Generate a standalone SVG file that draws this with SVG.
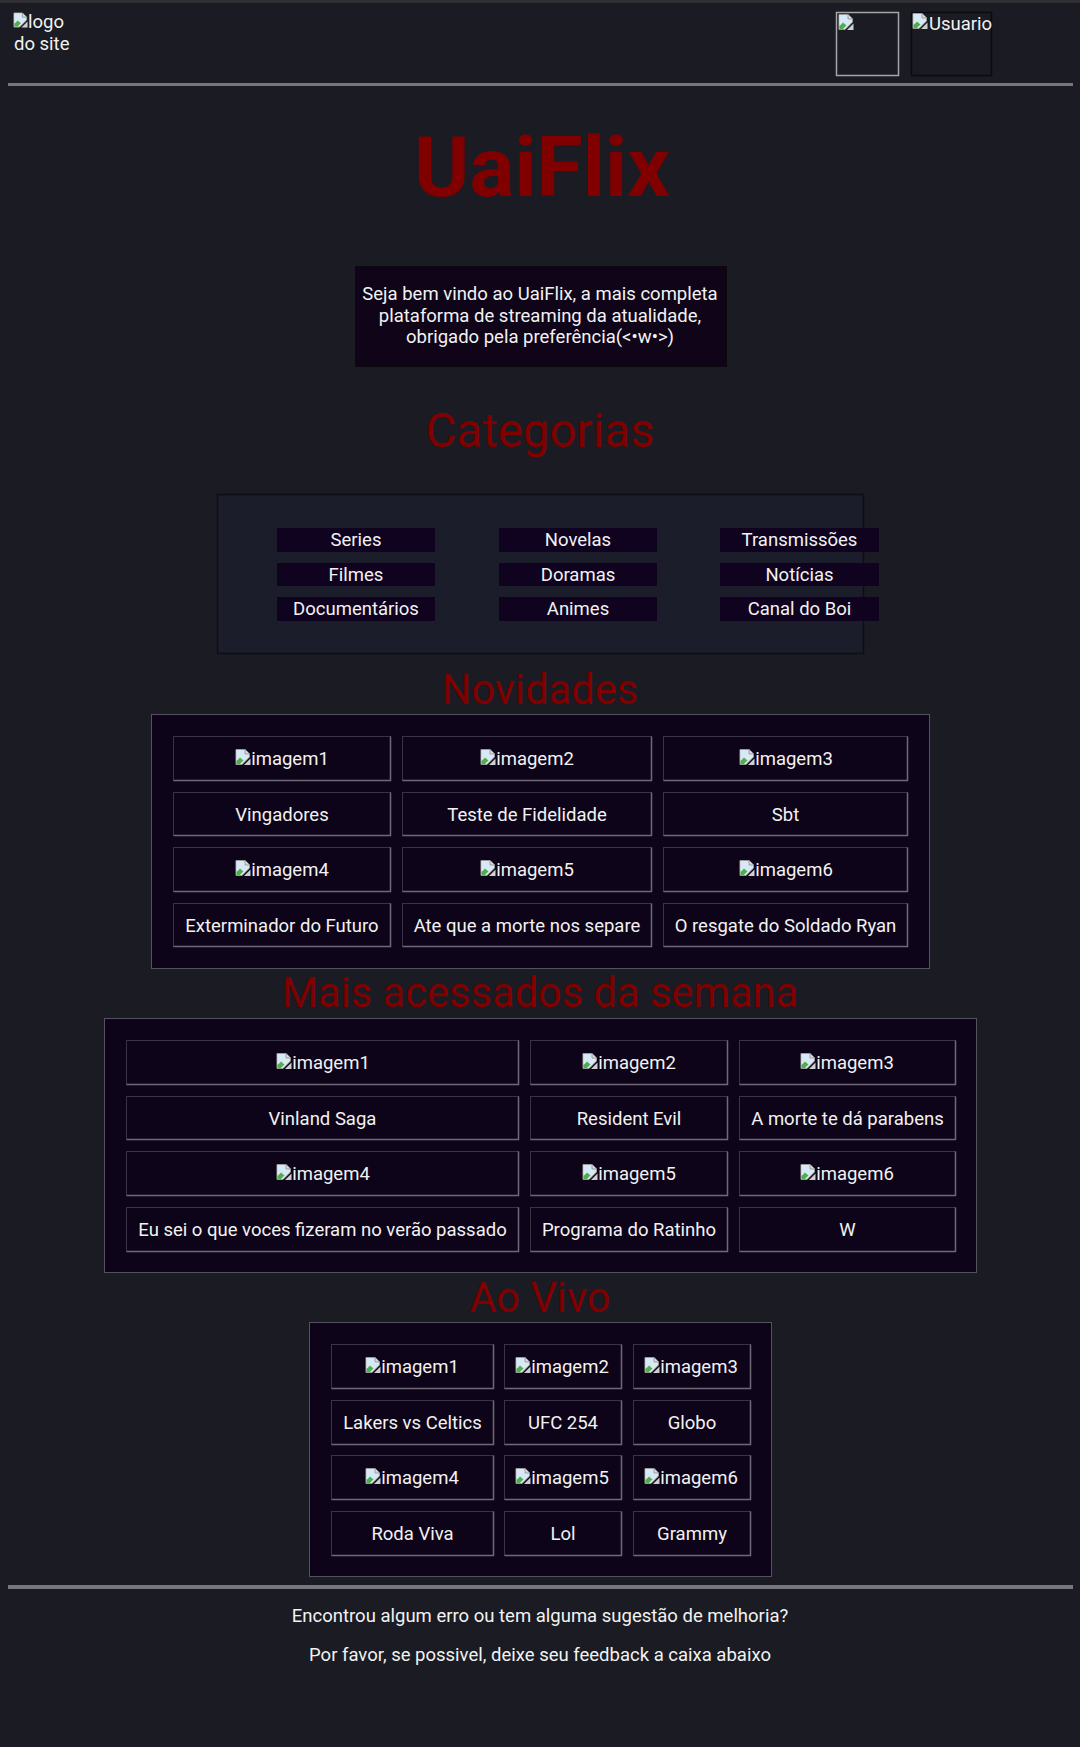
<svg xmlns="http://www.w3.org/2000/svg" xmlns:xlink="http://www.w3.org/1999/xlink" width="1080" height="1747" viewBox="0 0 1080 1747">
<style>
text{font-family:Roboto,"Liberation Sans",sans-serif;fill:#f2f2f2;font-size:18.5px}
.mid{text-anchor:middle}
.h{fill:#800000;text-anchor:middle}
.box{fill:#0e0419;stroke:#55525e;stroke-width:1}
.cell{fill:#0e0419;stroke:#3a3346;stroke-width:1}
.hl{stroke:#6e6878;stroke-width:1.5;fill:none}
.btn{fill:#10031f}
.sep{fill:#76767c}
</style>
<defs>
<symbol id="broken" viewBox="0 0 16 16">
<path d="M1 0.5H10L14.5 5V8L7 15.5H1Z" fill="#f0f0f0" stroke="#9a9a9a" stroke-width="1"/>
<path d="M1.5 1H9.5V5.5H14V7.5L9 12.5L5 8.5L1.5 11Z" fill="#d6eaf6"/>
<path d="M1.5 12L5 8.5L8.5 11.5L5 15H1.5Z" fill="#4caf50"/>
<path d="M10 0.5V5H14.5" fill="#dcdcdc" stroke="#9a9a9a" stroke-width="1"/>
<path d="M9 16L15.5 9.5V16Z" fill="#cfcfcf"/>
</symbol>
</defs>
<rect width="1080" height="1747" fill="#1a1b23"/>
<rect width="1080" height="3" fill="#2f2f33"/>

<g id="header">
<g id="logo">
<use xlink:href="#broken" x="13" y="12" width="15" height="16"/>
<text x="28" y="28">logo</text>
<text x="14" y="50">do site</text>
</g>
<g id="icon-box">
<rect x="836.5" y="12.5" width="62" height="63" fill="none" stroke="#a6a6aa" stroke-width="1.5"/>
<use xlink:href="#broken" x="838" y="14" width="16" height="16"/>
</g>
<g id="user-box">
<rect x="911.5" y="12.5" width="80" height="63" fill="#1a1b23" stroke="#0a0a10" stroke-width="1.5"/>
<use xlink:href="#broken" x="912" y="13" width="16" height="16"/>
<svg x="912" y="12" width="80" height="64"><text x="17" y="18">Usuario</text></svg>
</g>
<rect class="sep" x="8" y="83" width="1065" height="3"/>
</g>

<g id="title">
<text class="h" x="542" y="196" style="font-size:84px;font-weight:bold">UaiFlix</text>
</g>

<g id="welcome">
<rect x="355.5" y="266.5" width="371" height="100" fill="#0f0418" stroke="#0a0a0e"/>
<text class="mid" x="540" y="300">Seja bem vindo ao UaiFlix, a mais completa</text>
<text class="mid" x="540" y="321.5">plataforma de streaming da atualidade,</text>
<text class="mid" x="540" y="343">obrigado pela preferência(&lt;•w•&gt;)</text>
</g>

<g id="categorias">
<text class="h" x="540" y="447" style="font-size:47.5px">Categorias</text>
<rect x="217.5" y="494.5" width="646" height="159" fill="#1c1d2b" stroke="#0d0e15" stroke-width="1.5"/>
<g id="cat-series"><rect class="btn" x="277" y="528" width="158" height="24"/><text class="mid" x="356" y="546">Series</text></g>
<g id="cat-novelas"><rect class="btn" x="499" y="528" width="158" height="24"/><text class="mid" x="578" y="546">Novelas</text></g>
<g id="cat-transmissoes"><rect class="btn" x="720" y="528" width="159" height="24"/><text class="mid" x="799.5" y="546">Transmissões</text></g>
<g id="cat-filmes"><rect class="btn" x="277" y="563" width="158" height="23"/><text class="mid" x="356" y="581">Filmes</text></g>
<g id="cat-doramas"><rect class="btn" x="499" y="563" width="158" height="23"/><text class="mid" x="578" y="581">Doramas</text></g>
<g id="cat-noticias"><rect class="btn" x="720" y="563" width="159" height="23"/><text class="mid" x="799.5" y="581">Notícias</text></g>
<g id="cat-documentarios"><rect class="btn" x="277" y="597" width="158" height="24"/><text class="mid" x="356" y="615">Documentários</text></g>
<g id="cat-animes"><rect class="btn" x="499" y="597" width="158" height="24"/><text class="mid" x="578" y="615">Animes</text></g>
<g id="cat-canal"><rect class="btn" x="720" y="597" width="159" height="24"/><text class="mid" x="799.5" y="615">Canal do Boi</text></g>
</g>

<g id="novidades">
<text class="h" x="540" y="704" style="font-size:41.6px">Novidades</text>
<rect class="box" x="151.5" y="714.5" width="778" height="254"/>
<g id="nov-cells">
<g id="nov-img1"><rect class="cell" x="173.5" y="736.5" width="217" height="44"/><path class="hl" d="M173.5 780.5H390.5V736.5"/><use xlink:href="#broken" x="235" y="749" width="16" height="16"/><text class="mid" x="290" y="765">imagem1</text></g>
<g id="nov-img2"><rect class="cell" x="402.5" y="736.5" width="249" height="44"/><path class="hl" d="M402.5 780.5H651.5V736.5"/><use xlink:href="#broken" x="480" y="749" width="16" height="16"/><text class="mid" x="535" y="765">imagem2</text></g>
<g id="nov-img3"><rect class="cell" x="663.5" y="736.5" width="244" height="44"/><path class="hl" d="M663.5 780.5H907.5V736.5"/><use xlink:href="#broken" x="739" y="749" width="16" height="16"/><text class="mid" x="794" y="765">imagem3</text></g>
<g id="nov-t1"><rect class="cell" x="173.5" y="792.5" width="217" height="43"/><path class="hl" d="M173.5 835.5H390.5V792.5"/><text class="mid" x="282" y="820.5">Vingadores</text></g>
<g id="nov-t2"><rect class="cell" x="402.5" y="792.5" width="249" height="43"/><path class="hl" d="M402.5 835.5H651.5V792.5"/><text class="mid" x="527" y="820.5">Teste de Fidelidade</text></g>
<g id="nov-t3"><rect class="cell" x="663.5" y="792.5" width="244" height="43"/><path class="hl" d="M663.5 835.5H907.5V792.5"/><text class="mid" x="785.5" y="820.5">Sbt</text></g>
<g id="nov-img4"><rect class="cell" x="173.5" y="847.5" width="217" height="44"/><path class="hl" d="M173.5 891.5H390.5V847.5"/><use xlink:href="#broken" x="235" y="860" width="16" height="16"/><text class="mid" x="290" y="876">imagem4</text></g>
<g id="nov-img5"><rect class="cell" x="402.5" y="847.5" width="249" height="44"/><path class="hl" d="M402.5 891.5H651.5V847.5"/><use xlink:href="#broken" x="480" y="860" width="16" height="16"/><text class="mid" x="535" y="876">imagem5</text></g>
<g id="nov-img6"><rect class="cell" x="663.5" y="847.5" width="244" height="44"/><path class="hl" d="M663.5 891.5H907.5V847.5"/><use xlink:href="#broken" x="739" y="860" width="16" height="16"/><text class="mid" x="794" y="876">imagem6</text></g>
<g id="nov-t4"><rect class="cell" x="173.5" y="903.5" width="217" height="43"/><path class="hl" d="M173.5 946.5H390.5V903.5"/><text class="mid" x="282" y="931.5">Exterminador do Futuro</text></g>
<g id="nov-t5"><rect class="cell" x="402.5" y="903.5" width="249" height="43"/><path class="hl" d="M402.5 946.5H651.5V903.5"/><text class="mid" x="527" y="931.5">Ate que a morte nos separe</text></g>
<g id="nov-t6"><rect class="cell" x="663.5" y="903.5" width="244" height="43"/><path class="hl" d="M663.5 946.5H907.5V903.5"/><text class="mid" x="785.5" y="931.5">O resgate do Soldado Ryan</text></g>
</g>
</g>

<g id="mais">
<text class="h" x="540" y="1007" style="font-size:41.6px">Mais acessados da semana</text>
<rect class="box" x="104.5" y="1018.5" width="872" height="254"/>
<g id="mais-img1"><rect class="cell" x="126.5" y="1040.5" width="392" height="44"/><path class="hl" d="M126.5 1084.5H518.5V1040.5"/><use xlink:href="#broken" x="276" y="1053" width="16" height="16"/><text class="mid" x="331" y="1069">imagem1</text></g>
<g id="mais-img2"><rect class="cell" x="530.5" y="1040.5" width="197" height="44"/><path class="hl" d="M530.5 1084.5H727.5V1040.5"/><use xlink:href="#broken" x="582" y="1053" width="16" height="16"/><text class="mid" x="637" y="1069">imagem2</text></g>
<g id="mais-img3"><rect class="cell" x="739.5" y="1040.5" width="216" height="44"/><path class="hl" d="M739.5 1084.5H955.5V1040.5"/><use xlink:href="#broken" x="800" y="1053" width="16" height="16"/><text class="mid" x="855" y="1069">imagem3</text></g>
<g id="mais-t1"><rect class="cell" x="126.5" y="1096.5" width="392" height="43"/><path class="hl" d="M126.5 1139.5H518.5V1096.5"/><text class="mid" x="322.5" y="1124.5">Vinland Saga</text></g>
<g id="mais-t2"><rect class="cell" x="530.5" y="1096.5" width="197" height="43"/><path class="hl" d="M530.5 1139.5H727.5V1096.5"/><text class="mid" x="629" y="1124.5">Resident Evil</text></g>
<g id="mais-t3"><rect class="cell" x="739.5" y="1096.5" width="216" height="43"/><path class="hl" d="M739.5 1139.5H955.5V1096.5"/><text class="mid" x="847.5" y="1124.5">A morte te dá parabens</text></g>
<g id="mais-img4"><rect class="cell" x="126.5" y="1151.5" width="392" height="44"/><path class="hl" d="M126.5 1195.5H518.5V1151.5"/><use xlink:href="#broken" x="276" y="1164" width="16" height="16"/><text class="mid" x="331" y="1180">imagem4</text></g>
<g id="mais-img5"><rect class="cell" x="530.5" y="1151.5" width="197" height="44"/><path class="hl" d="M530.5 1195.5H727.5V1151.5"/><use xlink:href="#broken" x="582" y="1164" width="16" height="16"/><text class="mid" x="637" y="1180">imagem5</text></g>
<g id="mais-img6"><rect class="cell" x="739.5" y="1151.5" width="216" height="44"/><path class="hl" d="M739.5 1195.5H955.5V1151.5"/><use xlink:href="#broken" x="800" y="1164" width="16" height="16"/><text class="mid" x="855" y="1180">imagem6</text></g>
<g id="mais-t4"><rect class="cell" x="126.5" y="1207.5" width="392" height="44"/><path class="hl" d="M126.5 1251.5H518.5V1207.5"/><text class="mid" x="322.5" y="1236">Eu sei o que voces fizeram no verão passado</text></g>
<g id="mais-t5"><rect class="cell" x="530.5" y="1207.5" width="197" height="44"/><path class="hl" d="M530.5 1251.5H727.5V1207.5"/><text class="mid" x="629" y="1236">Programa do Ratinho</text></g>
<g id="mais-t6"><rect class="cell" x="739.5" y="1207.5" width="216" height="44"/><path class="hl" d="M739.5 1251.5H955.5V1207.5"/><text class="mid" x="847.5" y="1236">W</text></g>
</g>

<g id="aovivo">
<text class="h" x="540" y="1312" style="font-size:41.6px">Ao Vivo</text>
<rect class="box" x="309.5" y="1322.5" width="462" height="254"/>
<g id="av-img1"><rect class="cell" x="331.5" y="1344.5" width="162" height="44"/><path class="hl" d="M331.5 1388.5H493.5V1344.5"/><use xlink:href="#broken" x="365" y="1357" width="16" height="16"/><text class="mid" x="420" y="1373">imagem1</text></g>
<g id="av-img2"><rect class="cell" x="504.5" y="1344.5" width="117" height="44"/><path class="hl" d="M504.5 1388.5H621.5V1344.5"/><use xlink:href="#broken" x="515" y="1357" width="16" height="16"/><text class="mid" x="570" y="1373">imagem2</text></g>
<g id="av-img3"><rect class="cell" x="633.5" y="1344.5" width="117" height="44"/><path class="hl" d="M633.5 1388.5H750.5V1344.5"/><use xlink:href="#broken" x="644" y="1357" width="16" height="16"/><text class="mid" x="699" y="1373">imagem3</text></g>
<g id="av-t1"><rect class="cell" x="331.5" y="1400.5" width="162" height="44"/><path class="hl" d="M331.5 1444.5H493.5V1400.5"/><text class="mid" x="412.5" y="1429">Lakers vs Celtics</text></g>
<g id="av-t2"><rect class="cell" x="504.5" y="1400.5" width="117" height="44"/><path class="hl" d="M504.5 1444.5H621.5V1400.5"/><text class="mid" x="563" y="1429">UFC 254</text></g>
<g id="av-t3"><rect class="cell" x="633.5" y="1400.5" width="117" height="44"/><path class="hl" d="M633.5 1444.5H750.5V1400.5"/><text class="mid" x="692" y="1429">Globo</text></g>
<g id="av-img4"><rect class="cell" x="331.5" y="1455.5" width="162" height="44"/><path class="hl" d="M331.5 1499.5H493.5V1455.5"/><use xlink:href="#broken" x="365" y="1468" width="16" height="16"/><text class="mid" x="420" y="1484">imagem4</text></g>
<g id="av-img5"><rect class="cell" x="504.5" y="1455.5" width="117" height="44"/><path class="hl" d="M504.5 1499.5H621.5V1455.5"/><use xlink:href="#broken" x="515" y="1468" width="16" height="16"/><text class="mid" x="570" y="1484">imagem5</text></g>
<g id="av-img6"><rect class="cell" x="633.5" y="1455.5" width="117" height="44"/><path class="hl" d="M633.5 1499.5H750.5V1455.5"/><use xlink:href="#broken" x="644" y="1468" width="16" height="16"/><text class="mid" x="699" y="1484">imagem6</text></g>
<g id="av-t4"><rect class="cell" x="331.5" y="1511.5" width="162" height="44"/><path class="hl" d="M331.5 1555.5H493.5V1511.5"/><text class="mid" x="412.5" y="1540">Roda Viva</text></g>
<g id="av-t5"><rect class="cell" x="504.5" y="1511.5" width="117" height="44"/><path class="hl" d="M504.5 1555.5H621.5V1511.5"/><text class="mid" x="563" y="1540">Lol</text></g>
<g id="av-t6"><rect class="cell" x="633.5" y="1511.5" width="117" height="44"/><path class="hl" d="M633.5 1555.5H750.5V1511.5"/><text class="mid" x="692" y="1540">Grammy</text></g>
</g>

<g id="footer">
<rect class="sep" x="8" y="1585" width="1065" height="4"/>
<text class="mid" x="540" y="1622">Encontrou algum erro ou tem alguma sugestão de melhoria?</text>
<text class="mid" x="540" y="1661">Por favor, se possivel, deixe seu feedback a caixa abaixo</text>
</g>
</svg>
